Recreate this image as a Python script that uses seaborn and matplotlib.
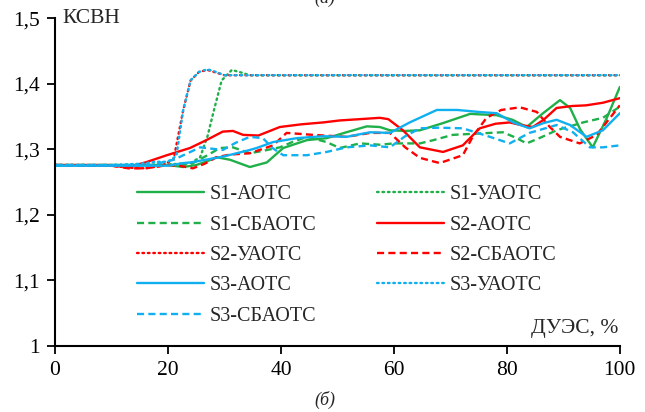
import numpy as np
import pandas as pd
import matplotlib
matplotlib.use("Agg")
import matplotlib.pyplot as plt
import seaborn as sns
from matplotlib.ticker import FuncFormatter

sns.set_theme(style="white")
plt.rcParams['font.family'] = ['Liberation Serif', 'DejaVu Serif']

GREEN = "#1fb04a"
RED = "#ff0000"
BLUE = "#10b0f0"

# S1 series
s1_aots_x = [0, 10, 20, 22.7, 25, 27, 28.6, 31, 34.5, 37.5, 40.4, 44.6, 48.1, 51.6, 55.2, 57.5, 59.3, 62, 64.6,
             68.7, 73.5, 78.2, 81, 83.5, 86.4, 89.4, 91.2, 93, 95.2, 97.7, 100]
s1_aots_y = [1.276, 1.276, 1.276, 1.273, 1.276, 1.282, 1.288, 1.284, 1.273, 1.280, 1.302, 1.314, 1.317, 1.326,
             1.335, 1.334, 1.329, 1.328, 1.329, 1.340, 1.354, 1.352, 1.345, 1.334, 1.355, 1.375, 1.363, 1.330,
             1.303, 1.348, 1.395]
s1_uaots_x = [0, 10, 20, 24, 25.7, 27, 28, 29.5, 31.3, 33, 34.5, 60, 100]
s1_uaots_y = [1.276, 1.276, 1.277, 1.279, 1.288, 1.320, 1.355, 1.405, 1.421, 1.417, 1.413, 1.413, 1.413]
s1_sbaots_x = [0, 10, 20, 24, 27, 29.2, 31.5, 34.5, 37, 39.8, 42, 44.6, 48.1, 50.4, 54, 57.5, 60, 64.6, 67, 70.4,
               74.7, 79.3, 81.5, 83.5, 86, 88.8, 93.5, 97, 100]
s1_sbaots_y = [1.276, 1.276, 1.276, 1.277, 1.291, 1.302, 1.303, 1.294, 1.298, 1.303, 1.311, 1.319, 1.311, 1.302,
               1.309, 1.307, 1.309, 1.309, 1.314, 1.322, 1.324, 1.326, 1.318, 1.309, 1.318, 1.329, 1.341, 1.348,
               1.365]

# S2 series
s2_aots_x = [0, 10, 13, 16, 19.8, 23.9, 26.8, 29.7, 31.5, 33.3, 36, 39.8, 43.5, 47.5, 50.4, 54, 57.5, 59, 61.6,
             64.6, 68.7, 72.2, 75.2, 78, 80.5, 82.5, 84.6, 86.5, 88.8, 91.5, 94, 97, 100]
s2_aots_y = [1.276, 1.276, 1.273, 1.280, 1.291, 1.302, 1.314, 1.327, 1.328, 1.322, 1.321, 1.334, 1.338, 1.341,
             1.344, 1.346, 1.348, 1.346, 1.329, 1.303, 1.296, 1.306, 1.332, 1.339, 1.341, 1.337, 1.334, 1.345,
             1.363, 1.366, 1.367, 1.371, 1.378]
s2_uaots_x = [0, 5, 10, 13, 16, 19, 21, 22.7, 24, 25.5, 27, 28.5, 30, 60, 100]
s2_uaots_y = [1.276, 1.276, 1.275, 1.272, 1.271, 1.275, 1.285, 1.360, 1.405, 1.418, 1.421, 1.417, 1.413, 1.413,
              1.413]
s2_sbaots_x = [0, 10, 13, 16, 20, 22, 24.4, 26.5, 28.6, 31, 34.5, 38.6, 41, 45.7, 51.6, 55.8, 59.3, 62, 64.6,
               68.1, 72.2, 74, 76.4, 79, 82.3, 85.3, 87.5, 89.4, 92.9, 95.9, 98, 100]
s2_sbaots_y = [1.276, 1.275, 1.271, 1.271, 1.276, 1.275, 1.271, 1.278, 1.288, 1.292, 1.294, 1.306, 1.325, 1.322,
               1.319, 1.325, 1.325, 1.303, 1.287, 1.279, 1.291, 1.320, 1.348, 1.360, 1.364, 1.357, 1.335, 1.319,
               1.309, 1.322, 1.345, 1.367]

# S3 series
s3_aots_x = [0, 10, 20, 22.7, 24, 28.6, 29.8, 34.5, 35.7, 38.6, 42.8, 47.5, 51.6, 55.8, 59.3, 62.8, 67.6, 71.2,
             75, 78.2, 81.1, 84, 86.5, 88.8, 91.2, 94.1, 97, 100]
s3_aots_y = [1.275, 1.275, 1.275, 1.279, 1.280, 1.287, 1.289, 1.299, 1.302, 1.311, 1.317, 1.320, 1.319, 1.326,
             1.325, 1.341, 1.360, 1.360, 1.357, 1.355, 1.341, 1.332, 1.340, 1.345, 1.337, 1.319, 1.329, 1.355]
s3_uaots_x = [0, 5, 10, 15, 18, 20, 21.5, 22.7, 24, 25.5, 27, 28.5, 30, 60, 100]
s3_uaots_y = [1.276, 1.276, 1.276, 1.278, 1.281, 1.281, 1.290, 1.360, 1.405, 1.418, 1.422, 1.418, 1.413, 1.413,
              1.413]
s3_sbaots_x = [0, 10, 17, 21, 25.7, 29.7, 32, 34.5, 36.8, 38.5, 40.4, 44.6, 48.1, 51.6, 55.8, 59.3, 62, 64.6,
               68, 72.2, 77, 80.5, 84, 88.8, 91.7, 94.7, 97, 100]
s3_sbaots_y = [1.276, 1.276, 1.276, 1.284, 1.303, 1.299, 1.310, 1.319, 1.317, 1.302, 1.291, 1.291, 1.296, 1.303,
               1.306, 1.303, 1.320, 1.332, 1.333, 1.332, 1.319, 1.309, 1.325, 1.337, 1.326, 1.303, 1.303, 1.306]

x_ticks = [0, 20, 40, 60, 80, 100]
y_ticks = [1.0, 1.1, 1.2, 1.3, 1.4, 1.5]

DOT = (0, (0.7, 1.6))
DASH = (0, (3.0, 1.8))

series = [
    ("S1-АОТС", s1_aots_x, s1_aots_y, GREEN, "-"),
    ("S1-УАОТС", s1_uaots_x, s1_uaots_y, GREEN, DOT),
    ("S1-СБАОТС", s1_sbaots_x, s1_sbaots_y, GREEN, DASH),
    ("S2-АОТС", s2_aots_x, s2_aots_y, RED, "-"),
    ("S2-УАОТС", s2_uaots_x, s2_uaots_y, RED, DOT),
    ("S2-СБАОТС", s2_sbaots_x, s2_sbaots_y, RED, DASH),
    ("S3-АОТС", s3_aots_x, s3_aots_y, BLUE, "-"),
    ("S3-УАОТС", s3_uaots_x, s3_uaots_y, BLUE, DOT),
    ("S3-СБАОТС", s3_sbaots_x, s3_sbaots_y, BLUE, DASH),
]

fig = plt.figure(figsize=(6.45, 4.12), dpi=100)
ax = fig.add_axes([0.0853, 0.160, 0.8757, 0.796])

handles = {}
for name, xs, ys, col, ls in series:
    df = pd.DataFrame({"x": xs, "y": ys})
    sns.lineplot(data=df, x="x", y="y", ax=ax, color=col, linestyle=ls, linewidth=1.7,
                 estimator=None, sort=False, dash_capstyle="round" if ls == DOT else "butt")
    handles[name] = ax.lines[-1]

ax.set_xlim(0, 100)
ax.set_ylim(1.0, 1.5)
ax.set_xticks(x_ticks)
ax.set_yticks(y_ticks)
fmt = FuncFormatter(lambda v, p: ("%g" % round(v, 1)).replace(".", ","))
ax.yaxis.set_major_formatter(fmt)
ax.set_xlabel("")
ax.set_ylabel("")
ax.tick_params(axis="both", direction="out", length=6, width=1.3, colors="black",
               labelsize=15.5, pad=5, bottom=True, left=True)
for side in ("top", "right"):
    ax.spines[side].set_visible(False)
for side in ("left", "bottom"):
    ax.spines[side].set_color("black")
    ax.spines[side].set_linewidth(1.5)

order = ["S1-АОТС", "S1-СБАОТС", "S2-УАОТС", "S3-АОТС", "S3-СБАОТС",
         "S1-УАОТС", "S2-АОТС", "S2-СБАОТС", "S3-УАОТС"]
leg = ax.legend([handles[n] for n in order], order, ncol=2, frameon=False,
                loc="upper left", bbox_to_anchor=(0.113, 0.546), fontsize=14.5,
                handlelength=3.35, handletextpad=0.25, labelspacing=0.56, columnspacing=3.0,
                borderpad=0.4)

ax.text(0.013, 1.0, "КСВН", transform=ax.transAxes, fontsize=15.5, ha="left", va="center")
ax.text(0.998, 0.025, "ДУЭС, %", transform=ax.transAxes, fontsize=15.5, ha="right", va="bottom")
fig.text(0.504, 0.03, "(б)", fontsize=13, ha="center", va="center", style="italic")
fig.text(0.504, 1.005, "(а)", fontsize=13, ha="center", va="center", style="italic")

fig.savefig("out.png", dpi=100)
